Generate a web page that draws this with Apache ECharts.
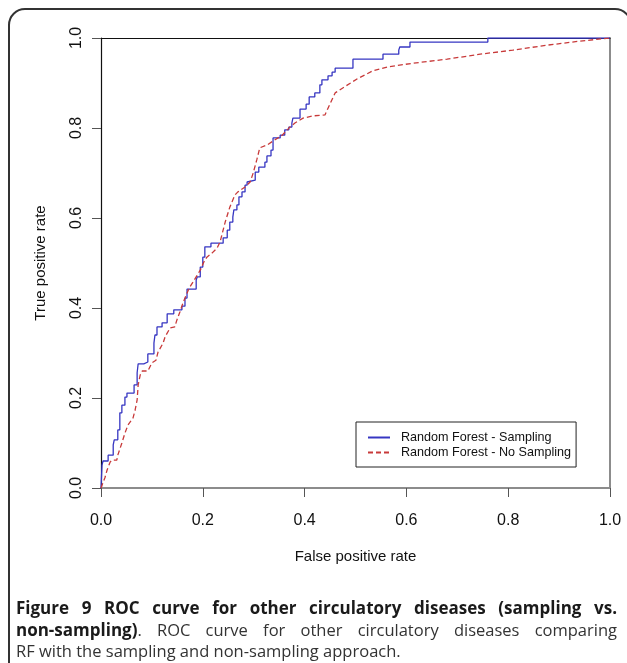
<!DOCTYPE html>
<html>
<head>
<meta charset="utf-8">
<script src="https://cdn.jsdelivr.net/npm/echarts@6/dist/echarts.min.js"></script>
<style>
html,body{margin:0;padding:0;background:#fff;}
#chart{width:627px;height:663px;}
</style>
</head>
<body>
<div id="chart"></div>
<script>
// ---- Data ----
// Random Forest - Sampling: step ROC curve; each pair = FPR where TPR rises, TPR after the rise
const samplingFpr = [0.002,0.004,0.014,0.024,0.026,0.033,0.037,0.041,0.047,0.051,0.065,0.071,0.073,0.084,0.092,0.104,0.106,0.110,0.120,0.130,0.143,0.159,0.165,0.169,0.187,0.189,0.195,0.200,0.204,0.216,0.240,0.248,0.253,0.259,0.261,0.267,0.271,0.277,0.283,0.287,0.289,0.303,0.310,0.322,0.326,0.334,0.338,0.352,0.361,0.369,0.375,0.377,0.391,0.403,0.409,0.420,0.430,0.434,0.446,0.454,0.460,0.495,0.554,0.585,0.587,0.607,0.760];
const samplingTpr = [0.051,0.060,0.073,0.096,0.107,0.129,0.167,0.184,0.202,0.211,0.229,0.256,0.276,0.280,0.298,0.322,0.340,0.358,0.367,0.387,0.396,0.404,0.422,0.442,0.462,0.469,0.491,0.513,0.536,0.544,0.556,0.573,0.591,0.602,0.618,0.629,0.647,0.658,0.673,0.680,0.684,0.702,0.713,0.724,0.738,0.751,0.778,0.784,0.796,0.802,0.811,0.822,0.842,0.853,0.869,0.878,0.896,0.907,0.916,0.924,0.933,0.953,0.964,0.973,0.980,0.991,1.000];
// Random Forest - No Sampling
const noSamplingFpr = [0,0.002,0.008,0.012,0.018,0.022,0.031,0.033,0.041,0.047,0.053,0.063,0.067,0.071,0.073,0.077,0.081,0.092,0.100,0.108,0.112,0.122,0.126,0.136,0.145,0.149,0.155,0.161,0.169,0.173,0.181,0.189,0.195,0.202,0.208,0.218,0.228,0.234,0.244,0.253,0.263,0.269,0.283,0.293,0.299,0.306,0.312,0.326,0.338,0.356,0.371,0.381,0.397,0.417,0.440,0.446,0.460,0.475,0.503,0.534,0.564,0.613,0.680,0.745,0.809,0.876,0.941,1.0];
const noSamplingTpr = [0,0.002,0.024,0.040,0.058,0.062,0.062,0.073,0.100,0.122,0.140,0.156,0.173,0.196,0.229,0.251,0.260,0.260,0.278,0.284,0.302,0.322,0.336,0.356,0.358,0.373,0.391,0.411,0.433,0.444,0.458,0.473,0.484,0.502,0.513,0.522,0.533,0.547,0.591,0.624,0.651,0.658,0.669,0.680,0.700,0.729,0.756,0.762,0.771,0.784,0.802,0.811,0.822,0.827,0.829,0.844,0.878,0.889,0.909,0.927,0.936,0.944,0.953,0.964,0.973,0.984,0.993,1.0];
const seriesNames = ['Random Forest - Sampling', 'Random Forest - No Sampling'];
const xAxisTitle = 'False positive rate';
const yAxisTitle = 'True positive rate';
const captionLine1 = 'Figure 9 ROC curve for other circulatory diseases (sampling vs.';
const captionBold2 = 'non-sampling)';
const captionRest2 = '. ROC curve for other circulatory diseases comparing';
const captionLine3 = 'RF with the sampling and non-sampling approach.';

// ---- Build tables ----
const samplingPath = [[0, 0]];
let prevT = 0;
for (let i = 0; i < samplingFpr.length; i++) {
  samplingPath.push([samplingFpr[i], prevT]);
  samplingPath.push([samplingFpr[i], samplingTpr[i]]);
  prevT = samplingTpr[i];
}
samplingPath.push([1, prevT]);
const noSamplingPath = noSamplingFpr.map((x, i) => [x, noSamplingTpr[i]]);

// ---- Caption layout (justified lines) ----
const mctx = document.createElement('canvas').getContext('2d');
function tw(t, font) { mctx.font = font; return mctx.measureText(t).width; }
const FB = 'bold 17px "Open Sans"';
const FR = '16.5px "Open Sans"';
const capLeft = 16, capRight = 617;
const capColorB = '#1a1a1a', capColorR = '#333';
function justifyLine(words, y) {
  const widths = words.map(w => w.reduce((s, seg) => s + tw(seg.t, seg.f), 0));
  const total = widths.reduce((a, b) => a + b, 0);
  const gap = (capRight - capLeft - total) / (words.length - 1);
  const els = [];
  let x = capLeft;
  words.forEach((w, i) => {
    let sx = x;
    w.forEach(seg => {
      els.push({type: 'text', x: sx, y: y, silent: true,
        style: {text: seg.t, font: seg.f, fill: seg.f === FB ? capColorB : capColorR, align: 'left', verticalAlign: 'middle'}});
      sx += tw(seg.t, seg.f);
    });
    x += widths[i] + gap;
  });
  return els;
}
const l1 = captionLine1.split(' ').map(t => [{t, f: FB}]);
const rest2 = captionRest2.split(' ');
const l2 = [[{t: captionBold2, f: FB}, {t: rest2[0], f: FR}]].concat(rest2.slice(1).map(t => [{t, f: FR}]));
const captionEls = justifyLine(l1, 609).concat(justifyLine(l2, 631)).concat([
  {type: 'text', x: capLeft, y: 652, silent: true,
   style: {text: captionLine3, font: FR, fill: capColorR, align: 'left', verticalAlign: 'middle'}}
]);

const chart = echarts.init(document.getElementById('chart'), null, {renderer: 'canvas'});
const AX_FONT = '"Liberation Sans", Arial, Helvetica, sans-serif';
chart.setOption({
  animation: false,
  backgroundColor: '#fff',
  grid: {left: 101, top: 38, width: 509, height: 450, containLabel: false},
  xAxis: [{
    type: 'value', min: 0, max: 1, interval: 0.2, position: 'bottom',
    axisLine: {show: true, onZero: false, lineStyle: {color: '#8c8c8c', width: 2}},
    axisTick: {show: true, inside: false, length: 9, lineStyle: {color: '#555', width: 1}},
    axisLabel: {margin: 25, fontSize: 16, color: '#111', fontFamily: AX_FONT, formatter: v => v.toFixed(1)},
    splitLine: {show: false},
    name: xAxisTitle, nameLocation: 'middle', nameGap: 61,
    nameTextStyle: {fontSize: 15, color: '#111', fontFamily: AX_FONT}
  }, {
    type: 'value', min: 0, max: 1, position: 'top',
    axisLine: {show: true, onZero: false, lineStyle: {color: '#111', width: 1.2}},
    axisTick: {show: false}, axisLabel: {show: false}, splitLine: {show: false}
  }],
  yAxis: [{
    type: 'value', min: 0, max: 1, interval: 0.2, position: 'left',
    axisLine: {show: true, onZero: false, lineStyle: {color: '#111', width: 1.2}},
    axisTick: {show: true, inside: false, length: 9, lineStyle: {color: '#555', width: 1}},
    axisLabel: {margin: 16, fontSize: 16, color: '#111', rotate: 90, fontFamily: AX_FONT, formatter: v => v.toFixed(1)},
    splitLine: {show: false},
    name: yAxisTitle, nameLocation: 'middle', nameGap: 53, nameRotate: 90,
    nameTextStyle: {fontSize: 15, color: '#111', fontFamily: AX_FONT}
  }, {
    type: 'value', min: 0, max: 1, position: 'right',
    axisLine: {show: true, onZero: false, lineStyle: {color: '#8c8c8c', width: 2}},
    axisTick: {show: false}, axisLabel: {show: false}, splitLine: {show: false}
  }],
  legend: {
    show: true, orient: 'vertical', left: 356, top: 422,
    data: seriesNames,
    borderColor: '#222', borderWidth: 1, borderRadius: 0,
    padding: [9, 5, 8, 11],
    itemWidth: 22, itemHeight: 14, itemGap: 2,
    backgroundColor: '#fff',
    itemStyle: {opacity: 0},
    textStyle: {fontSize: 12.6, color: '#111', fontFamily: AX_FONT, padding: [0, 0, 0, 6]},
    selectedMode: false
  },
  series: [{
    name: seriesNames[0], type: 'line', xAxisIndex: 0, yAxisIndex: 0,
    data: samplingPath, symbol: 'none', showSymbol: false,
    lineStyle: {color: '#3636c2', width: 1.3},
    itemStyle: {color: '#3636c2'},
    z: 3
  }, {
    name: seriesNames[1], type: 'line', xAxisIndex: 0, yAxisIndex: 0,
    data: noSamplingPath, symbol: 'none', showSymbol: false,
    lineStyle: {color: '#c83a3a', width: 1.3, type: [5, 3]},
    itemStyle: {color: '#c83a3a'},
    z: 4
  }],
  graphic: [{
    type: 'rect', silent: true, z: 0,
    shape: {x: 9, y: 9, width: 622, height: 720, r: 16},
    style: {fill: 'none', stroke: '#333', lineWidth: 2}
  }].concat(captionEls)
});
</script>
</body>
</html>
